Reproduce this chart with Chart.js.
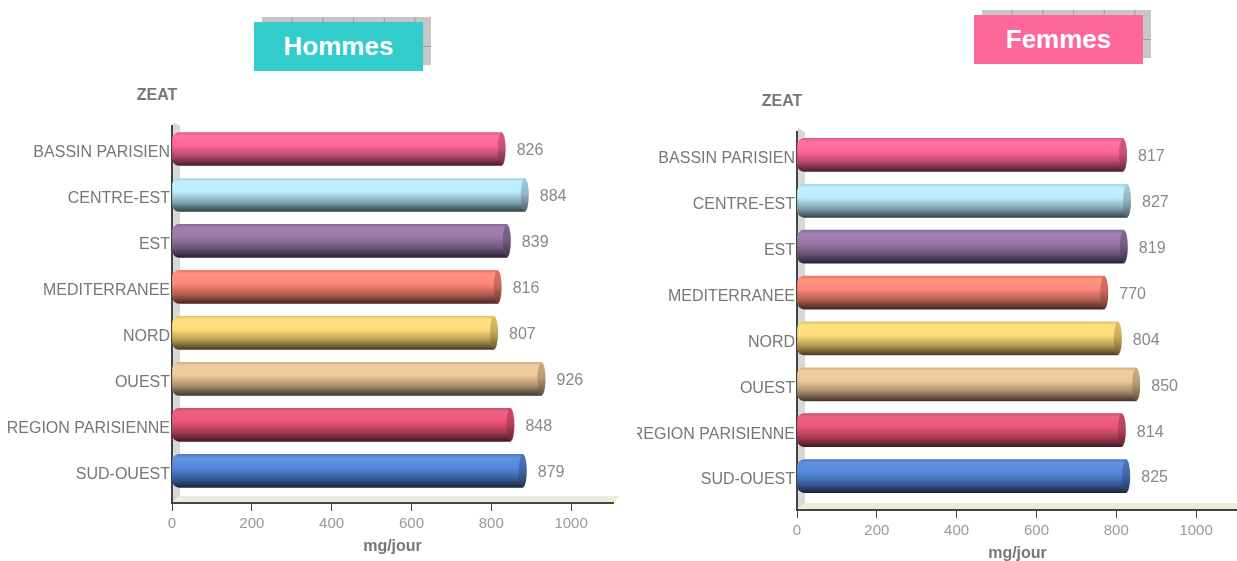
<!DOCTYPE html>
<html>
<head>
<meta charset="utf-8">
<script src="https://cdn.jsdelivr.net/npm/chart.js@4.4.0/dist/chart.umd.min.js"></script>
<style>
  html, body { margin: 0; padding: 0; background: #fff; }
  body { position: relative; width: 1237px; height: 561px; overflow: hidden; }
  canvas { position: absolute; }
  .shadow {
    position: absolute; width: 169px; height: 48px;
    background-color: #c6c6c6;
    background-image: linear-gradient(90deg, transparent 29.7px, #9c9c9c 29.7px),
                      linear-gradient(transparent 29px, #9c9c9c 29px);
    background-size: 30.7px 100%, 100% 30px;
  }
  .tag {
    position: absolute; width: 169px; height: 49px;
    color: #fff; text-align: center;
    font: bold 26px 'Liberation Sans', Arial, sans-serif;
    line-height: 49px;
  }
</style>
</head>
<body>
<div class="shadow" style="left:262px; top:17px;"></div>
<div class="tag" style="left:254px; top:22px; background:#33cccc;">Hommes</div>
<div class="shadow" style="left:982px; top:10px;"></div>
<div class="tag" style="left:974px; top:15px; background:#ff6699;">Femmes</div>

<canvas id="hommes" width="630" height="561" style="left:0; top:0;"></canvas>
<canvas id="femmes" width="640" height="561" style="left:637px; top:7px;"></canvas>

<script>
const zeat = ['BASSIN PARISIEN', 'CENTRE-EST', 'EST', 'MEDITERRANEE', 'NORD', 'OUEST', 'REGION PARISIENNE', 'SUD-OUEST'];
const hommes = [826, 884, 839, 816, 807, 926, 848, 879];
const femmes = [817, 827, 819, 770, 804, 850, 814, 825];
const xTicks = [0, 200, 400, 600, 800, 1000];
const barColors = ['#ff6699', '#bbeeff', '#9977aa', '#ff8877', '#ffdd77', '#eec899', '#ee5577', '#5588dd'];
const yTitle = 'ZEAT';
const xTitle = 'mg/jour';

const FONT = "'Liberation Sans', Arial, sans-serif";
const BAR_H = 33;

// amt < 0 darkens, amt > 0 lightens
function shade(hex, amt) {
  const n = parseInt(hex.slice(1), 16);
  const f = v => amt < 0 ? Math.round(v * (1 + amt)) : Math.round(v + (255 - v) * amt);
  return `rgb(${f(n >> 16)},${f((n >> 8) & 255)},${f(n & 255)})`;
}

// cylinder look: light top, dark bottom
function barFill(ctx) {
  const chart = ctx.chart;
  const c = barColors[ctx.dataIndex];
  if (!chart.chartArea) return c;
  const y = chart.scales.y.getPixelForValue(ctx.dataIndex);
  const g = chart.ctx.createLinearGradient(0, y - BAR_H / 2, 0, y + BAR_H / 2);
  g.addColorStop(0, shade(c, -0.12));
  g.addColorStop(0.1, shade(c, 0.08));
  g.addColorStop(0.4, c);
  g.addColorStop(0.72, shade(c, -0.3));
  g.addColorStop(1, shade(c, -0.72));
  return g;
}

const frame3d = {
  id: 'frame3d',
  beforeDraw(chart) {
    const { ctx, chartArea: { left, right, top, bottom } } = chart;
    const d = 7;
    ctx.save();
    ctx.fillStyle = '#d8d8d8';
    ctx.beginPath();
    ctx.moveTo(left + 1, top - 4);
    ctx.lineTo(left + d + 1, top);
    ctx.lineTo(left + d + 1, bottom - d);
    ctx.lineTo(left + 1, bottom - 1);
    ctx.closePath();
    ctx.fill();
    ctx.fillStyle = '#eeebda';
    ctx.beginPath();
    ctx.moveTo(left + 1, bottom - 1);
    ctx.lineTo(left + d + 1, bottom - d);
    ctx.lineTo(right + d, bottom - d);
    ctx.lineTo(right, bottom - 1);
    ctx.closePath();
    ctx.fill();
    ctx.restore();
  },
  afterDatasetsDraw(chart) {
    const { ctx, chartArea } = chart;
    const meta = chart.getDatasetMeta(0);
    const values = chart.data.datasets[0].data;
    ctx.save();
    meta.data.forEach((bar, i) => {
      const c = barColors[i];
      const h = bar.height;
      const g = ctx.createLinearGradient(0, bar.y - h / 2, 0, bar.y + h / 2);
      g.addColorStop(0, shade(c, -0.15));
      g.addColorStop(0.45, shade(c, -0.22));
      g.addColorStop(1, shade(c, -0.6));
      ctx.fillStyle = g;
      ctx.beginPath();
      ctx.ellipse(bar.x, bar.y, 4, h / 2, 0, 0, Math.PI * 2);
      ctx.fill();

      ctx.fillStyle = '#888';
      ctx.font = '16px ' + FONT;
      ctx.textAlign = 'left';
      ctx.textBaseline = 'middle';
      ctx.fillText(values[i], bar.x + 15, bar.y + 2);
    });
    ctx.fillStyle = '#777';
    ctx.font = 'bold 16px ' + FONT;
    ctx.textAlign = 'center';
    ctx.textBaseline = 'middle';
    ctx.fillText(yTitle, chartArea.left - 15, chartArea.top - 30);
    ctx.restore();
  }
};

function makeChart(id, values, yWidth, padTop, padRight, floorBand) {
  return new Chart(document.getElementById(id), {
    type: 'bar',
    data: {
      labels: zeat,
      datasets: [{
        data: values,
        backgroundColor: barFill,
        borderRadius: { topLeft: 7, bottomLeft: 7, topRight: 0, bottomRight: 0 },
        borderSkipped: false,
        barThickness: BAR_H
      }]
    },
    options: {
      indexAxis: 'y',
      responsive: false,
      animation: false,
      layout: { padding: { top: padTop, right: padRight, bottom: 0, left: 0 } },
      plugins: {
        legend: { display: false },
        tooltip: { enabled: false }
      },
      scales: {
        x: {
          min: 0,
          max: 1105,
          afterBuildTicks: (s) => { s.ticks = xTicks.map(v => ({ value: v })); },
          afterFit: (s) => { s.height = 58; },
          grid: { display: true, drawOnChartArea: false, drawTicks: true, tickLength: 8, color: '#444', lineWidth: 1 },
          border: { display: true, color: '#444', width: 2 },
          ticks: {
            color: '#999',
            padding: 4,
            maxRotation: 0,
            font: { family: FONT, size: 15 },
            callback: (v) => String(v)
          },
          title: {
            display: true,
            text: xTitle,
            color: '#777',
            font: { family: FONT, size: 16, weight: 'bold' },
            padding: { top: 0, bottom: 5 }
          }
        },
        y: {
          afterFit: (s) => { s.width = yWidth; },
          // leaves room for the 3D floor under the last bar
          afterBuildTicks: (s) => { s._valueRange = zeat.length + floorBand; },
          grid: { display: false, drawTicks: false, tickLength: 0 },
          border: { display: true, color: '#444', width: 2 },
          ticks: {
            color: '#777',
            padding: 2,
            labelOffset: 4,
            autoSkip: false,
            font: { family: FONT, size: 16 }
          }
        }
      }
    },
    plugins: [frame3d]
  });
}

makeChart('hommes', hommes, 172, 126, 17, 0.2);
makeChart('femmes', femmes, 160, 125, 39, 0.24);
</script>
</body>
</html>
